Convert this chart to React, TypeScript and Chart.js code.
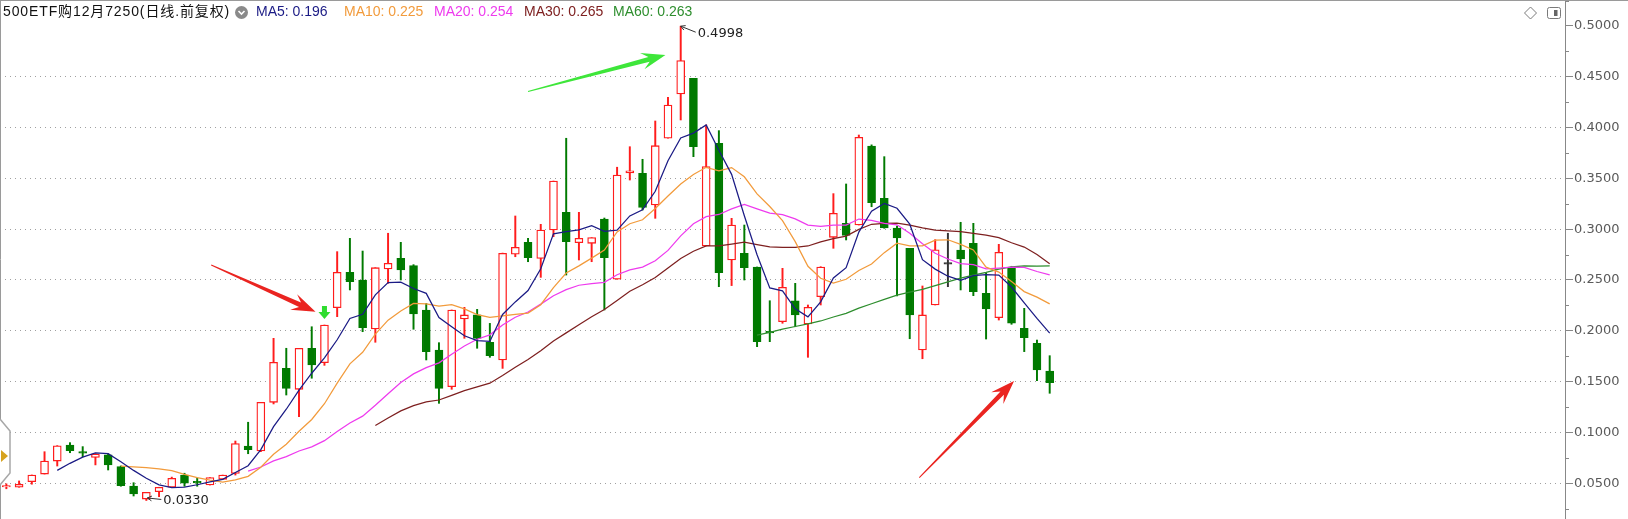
import { useEffect, useRef } from 'react';
import { Chart, registerables } from 'chart.js';

Chart.register(...registerables);

const chartTitle = '500ETF购12月7250(日线.前复权)';
const slotCount = 123;
const categories: string[] = Array.from({ length: slotCount }, (_, i) => `K${i + 1}`);

const openPrices = [
  0.0468, 0.0460, 0.0515, 0.0590, 0.0718, 0.0876, 0.0810, 0.0754, 0.0778, 0.0663,
  0.0472, 0.0344, 0.0417, 0.0460, 0.0580, 0.0515, 0.0482, 0.0538, 0.0595, 0.0866,
  0.0817, 0.1296, 0.1630, 0.1424, 0.1828, 0.1686, 0.2227, 0.2576, 0.2500, 0.2018,
  0.2608, 0.2713, 0.2641, 0.2205, 0.1811, 0.1450, 0.2116, 0.2156, 0.1887, 0.1713,
  0.2753, 0.2871, 0.2713, 0.2992, 0.3166, 0.2867, 0.2861, 0.3100, 0.2507, 0.3555,
  0.3550, 0.3238, 0.3895, 0.4331, 0.4485, 0.2835, 0.3845, 0.2697, 0.2762, 0.2628,
  0.1995, 0.2090, 0.2296, 0.2067, 0.2336, 0.2920, 0.3058, 0.3041, 0.3819, 0.3304,
  0.3012, 0.2812, 0.1811, 0.2254, 0.2664, 0.2795, 0.2861, 0.2369, 0.2129, 0.2625,
  0.2024, 0.1877, 0.1604,
];
const highPrices = [
  0.0494, 0.0522, 0.0581, 0.0810, 0.0870, 0.0899, 0.0860, 0.0790, 0.0790, 0.0670,
  0.0505, 0.0410, 0.0460, 0.0560, 0.0598, 0.0550, 0.0555, 0.0580, 0.0915, 0.1100,
  0.1296, 0.1926, 0.1828, 0.1828, 0.2040, 0.2057, 0.2779, 0.2910, 0.2785, 0.2621,
  0.2960, 0.2871, 0.2651, 0.2270, 0.1883, 0.2205, 0.2231, 0.2211, 0.2073, 0.2765,
  0.3130, 0.2910, 0.3048, 0.3474, 0.3895, 0.3166, 0.2917, 0.3110, 0.3610, 0.3812,
  0.3688, 0.4065, 0.4298, 0.4998, 0.4485, 0.4026, 0.3970, 0.3107, 0.3041, 0.2628,
  0.2296, 0.2615, 0.2467, 0.2254, 0.2631, 0.3350, 0.3445, 0.3927, 0.3830, 0.3714,
  0.3030, 0.2812, 0.2441, 0.2897, 0.2960, 0.3068, 0.3058, 0.2572, 0.2851, 0.2635,
  0.2221, 0.1909, 0.1755,
];
const lowPrices = [
  0.0445, 0.0460, 0.0490, 0.0590, 0.0669, 0.0800, 0.0760, 0.0680, 0.0630, 0.0470,
  0.0374, 0.0330, 0.0367, 0.0460, 0.0470, 0.0470, 0.0482, 0.0538, 0.0580, 0.0790,
  0.0810, 0.1280, 0.1368, 0.1155, 0.1533, 0.1660, 0.2139, 0.2402, 0.1991, 0.1887,
  0.2467, 0.2500, 0.2015, 0.1713, 0.1286, 0.1424, 0.1926, 0.1828, 0.1739, 0.1630,
  0.2729, 0.2680, 0.2526, 0.2926, 0.2549, 0.2697, 0.2680, 0.2205, 0.2507, 0.3484,
  0.3189, 0.3107, 0.3895, 0.4075, 0.3714, 0.2835, 0.2434, 0.2445, 0.2500, 0.1844,
  0.1893, 0.2074, 0.2040, 0.1739, 0.2254, 0.2812, 0.2894, 0.3041, 0.3221, 0.3009,
  0.2343, 0.1922, 0.1725, 0.2254, 0.2434, 0.2402, 0.2346, 0.1919, 0.2106, 0.2064,
  0.1795, 0.1509, 0.1385,
];
const closePrices = [
  0.0472, 0.0490, 0.0581, 0.0718, 0.0869, 0.0820, 0.0795, 0.0787, 0.0679, 0.0475,
  0.0394, 0.0410, 0.0460, 0.0548, 0.0500, 0.0505, 0.0555, 0.0580, 0.0890, 0.0830,
  0.1296, 0.1690, 0.1434, 0.1828, 0.1663, 0.2057, 0.2576, 0.2484, 0.2031, 0.2621,
  0.2664, 0.2598, 0.2165, 0.1795, 0.1434, 0.2205, 0.2156, 0.1926, 0.1755, 0.2762,
  0.2822, 0.2719, 0.2992, 0.3474, 0.2877, 0.2910, 0.2917, 0.2719, 0.3533, 0.3575,
  0.3215, 0.3822, 0.4222, 0.4659, 0.3812, 0.3616, 0.2572, 0.3041, 0.2621, 0.1893,
  0.1980, 0.2428, 0.2156, 0.2231, 0.2628, 0.3156, 0.2938, 0.3904, 0.3261, 0.3012,
  0.2914, 0.2156, 0.2156, 0.2798, 0.2664, 0.2707, 0.2385, 0.2215, 0.2772, 0.2074,
  0.1932, 0.1614, 0.1489,
];

const maPeriods = [5, 10, 20, 30, 60];
const maLegendValues = [0.196, 0.225, 0.254, 0.265, 0.263];
const maColors = ['#1b1b85', '#f29b3c', '#ee3bee', '#7e2020', '#2e8e2e'];

const yMin = 0.01476;
const yMax = 0.52559;
const yStep = 0.025;

const upColor = '#ff1c1c';
const downColor = '#007a00';
const flatColor = '#333333';

const arrowNotes = [
  { from: [16.1, 0.2648], to: [24.3, 0.2188], color: '#ea2420' },
  { from: [41.0, 0.4356], to: [51.8, 0.4715], color: '#3ee63a' },
  { from: [71.75, 0.0555], to: [79.2, 0.1506], color: '#ea2420' },
];
const signalIndex = 25;
const highNoteIndex = 53;
const lowNoteIndex = 11;

function movingAverage(values: number[], period: number): (number | null)[] {
  const out: (number | null)[] = [];
  let sum = 0;
  for (let i = 0; i < values.length; i++) {
    sum += values[i];
    if (i >= period) sum -= values[i - period];
    out.push(i >= period - 1 ? sum / period : null);
  }
  return out;
}

const isMajor = (v: number) => Math.abs(v / 0.05 - Math.round(v / 0.05)) < 1e-6;

function candleColor(i: number) {
  if (closePrices[i] > openPrices[i]) return upColor;
  if (closePrices[i] < openPrices[i]) return downColor;
  return flatColor;
}

function drawBigArrow(ctx: any, x1: number, y1: number, x2: number, y2: number, color: string) {
  const dx = x2 - x1;
  const dy = y2 - y1;
  const L = Math.hypot(dx, dy);
  const ux = dx / L, uy = dy / L, nx = -uy, ny = ux;
  const hl = 24, hw = 8.5, sw = 2.4, notch = 17;
  const pt = (a: number, b: number) => [x1 + ux * a + nx * b, y1 + uy * a + ny * b];
  const pts = [pt(0, 0.5), pt(L - notch, sw), pt(L - hl, hw), pt(L, 0), pt(L - hl, -hw), pt(L - notch, -sw), pt(0, -0.5)];
  ctx.save();
  ctx.fillStyle = color;
  ctx.beginPath();
  pts.forEach((p, k) => (k ? ctx.lineTo(p[0], p[1]) : ctx.moveTo(p[0], p[1])));
  ctx.closePath();
  ctx.fill();
  ctx.restore();
}

function drawNote(ctx: any, tipX: number, tipY: number, endX: number, endY: number, text: string) {
  ctx.save();
  ctx.strokeStyle = '#333';
  ctx.lineWidth = 1;
  ctx.beginPath();
  ctx.moveTo(endX, endY);
  ctx.lineTo(tipX, tipY);
  const ang = Math.atan2(tipY - endY, tipX - endX);
  ctx.moveTo(tipX, tipY);
  ctx.lineTo(tipX - 5 * Math.cos(ang - 0.5), tipY - 5 * Math.sin(ang - 0.5));
  ctx.moveTo(tipX, tipY);
  ctx.lineTo(tipX - 5 * Math.cos(ang + 0.5), tipY - 5 * Math.sin(ang + 0.5));
  ctx.stroke();
  ctx.fillStyle = '#222';
  ctx.font = '13px "DejaVu Sans"';
  ctx.textBaseline = 'middle';
  ctx.textAlign = 'left';
  ctx.fillText(text, endX + 2, endY + 1);
  ctx.restore();
}

function fitText(ctx: any, text: string, x: number, y: number, width: number) {
  try { ctx.letterSpacing = '0px'; } catch (e) {}
  const natural = ctx.measureText(text).width;
  const n = Array.from(text).length;
  const extra = (width - natural) / n;
  try { ctx.letterSpacing = `${extra.toFixed(2)}px`; } catch (e) {}
  ctx.fillText(text, x, y);
  try { ctx.letterSpacing = '0px'; } catch (e) {}
}

const decorPlugin = {
  id: 'decor',
  afterDatasetsDraw(chart: any) {
    const ctx = chart.ctx;
    const xs = chart.scales.x;
    const ys = chart.scales.y;
    const px = (i: number) => xs.getPixelForValue(i);
    const py = (v: number) => ys.getPixelForValue(v);

    for (const a of arrowNotes) {
      drawBigArrow(ctx, px(a.from[0]), py(a.from[1]), px(a.to[0]), py(a.to[1]), a.color);
    }

    // buy signal marker
    const cx = px(signalIndex);
    const tip = py(highPrices[signalIndex]) - 6;
    ctx.save();
    ctx.fillStyle = '#2fdc2f';
    ctx.fillRect(cx - 2.5, tip - 13, 5, 6.5);
    ctx.beginPath();
    ctx.moveTo(cx - 6, tip - 7);
    ctx.lineTo(cx + 6, tip - 7);
    ctx.lineTo(cx, tip);
    ctx.closePath();
    ctx.fill();
    ctx.restore();

    const hx = px(highNoteIndex);
    const hy = py(highPrices[highNoteIndex]);
    drawNote(ctx, hx, hy, hx + 15, hy + 6, highPrices[highNoteIndex].toFixed(4));
    const lx = px(lowNoteIndex) + 1;
    const ly = py(lowPrices[lowNoteIndex]) - 2.5;
    drawNote(ctx, lx, ly, lx + 14, ly + 1.5, lowPrices[lowNoteIndex].toFixed(4));
  },
  afterDraw(chart: any) {
    const ctx = chart.ctx;
    const ys = chart.scales.y;
    const area = chart.chartArea;
    ctx.save();

    // minor ticks
    ctx.strokeStyle = '#888';
    ctx.lineWidth = 1;
    ctx.beginPath();
    for (let v = 0.025; v < yMax; v += 0.05) {
      const y = Math.round(ys.getPixelForValue(v)) + 0.5;
      ctx.moveTo(area.right, y);
      ctx.lineTo(area.right + 4, y);
    }
    ctx.stroke();

    // frame
    ctx.strokeStyle = '#9a9a9a';
    ctx.beginPath();
    ctx.moveTo(0, 0.5);
    ctx.lineTo(chart.width, 0.5);
    ctx.moveTo(0.5, 0);
    ctx.lineTo(0.5, chart.height);
    ctx.stroke();

    // left handle
    ctx.fillStyle = '#ffffff';
    ctx.strokeStyle = '#a8a8a8';
    ctx.lineWidth = 1.5;
    ctx.beginPath();
    ctx.moveTo(0, 419);
    ctx.lineTo(10, 431);
    ctx.lineTo(10, 473);
    ctx.lineTo(0, 485);
    ctx.fill();
    ctx.stroke();
    ctx.fillStyle = '#d6a21e';
    ctx.beginPath();
    ctx.moveTo(1, 450);
    ctx.lineTo(8, 456);
    ctx.lineTo(1, 462);
    ctx.closePath();
    ctx.fill();

    // header
    ctx.textBaseline = 'middle';
    ctx.textAlign = 'left';
    ctx.fillStyle = '#111';
    ctx.font = '14px "Liberation Sans", "Noto Sans CJK SC"';
    fitText(ctx, chartTitle, 3, 12.5, 227);

    ctx.fillStyle = '#8a8a8a';
    ctx.beginPath();
    ctx.arc(241.5, 12.5, 6.5, 0, Math.PI * 2);
    ctx.fill();
    ctx.strokeStyle = '#ffffff';
    ctx.lineWidth = 1.6;
    ctx.beginPath();
    ctx.moveTo(238.5, 11);
    ctx.lineTo(241.5, 14);
    ctx.lineTo(244.5, 11);
    ctx.stroke();

    const maX = [256, 344, 434, 524, 613];
    ctx.font = '14px "Liberation Sans"';
    maPeriods.forEach((p, k) => {
      ctx.fillStyle = maColors[k];
      ctx.fillText(`MA${p}: ${maLegendValues[k].toFixed(3)}`, maX[k], 12.5);
    });

    // top-right icons
    ctx.strokeStyle = '#7a7a7a';
    ctx.lineWidth = 1;
    ctx.beginPath();
    ctx.moveTo(1530.5, 7);
    ctx.lineTo(1536.5, 13);
    ctx.lineTo(1530.5, 19);
    ctx.lineTo(1524.5, 13);
    ctx.closePath();
    ctx.stroke();
    ctx.beginPath();
    ctx.roundRect(1547.5, 7.5, 13, 11, 2);
    ctx.stroke();
    ctx.fillStyle = '#666';
    ctx.fillRect(1554, 10, 3.5, 6);

    ctx.restore();
  },
};

export default function App() {
  const canvasRef = useRef<HTMLCanvasElement | null>(null);

  useEffect(() => {
    document.body.style.margin = '0';
    const canvas = canvasRef.current;
    if (!canvas) return;
    const n = closePrices.length;
    const colors = Array.from({ length: n }, (_, i) => candleColor(i));
    const bodies = openPrices.map((o, i) => {
      const c = closePrices[i];
      if (Math.abs(c - o) < 0.0015) {
        const m = (c + o) / 2;
        return [m - 0.00075, m + 0.00075];
      }
      return [o, c];
    });
    const wicks = lowPrices.map((l, i) => [l, highPrices[i]]);

    const maSets = maPeriods.map((p, k) => ({
      type: 'line',
      label: `MA${p}`,
      data: movingAverage(closePrices, p),
      borderColor: maColors[k],
      borderWidth: 1.25,
      pointRadius: 0,
      fill: false,
      tension: 0,
      order: 0,
    }));

    const chart = new Chart(canvas, {
      type: 'bar',
      data: {
        labels: categories,
        datasets: [
          ...maSets,
          {
            type: 'bar',
            label: 'body',
            data: bodies,
            backgroundColor: colors.map((c) => (c === upColor ? '#ffffff' : c)),
            borderColor: colors,
            borderWidth: 1.3,
            borderSkipped: false,
            barThickness: 8,
            grouped: false,
            order: 1,
          },
          {
            type: 'bar',
            label: 'wick',
            data: wicks,
            backgroundColor: colors,
            borderWidth: 0,
            barThickness: 1.3,
            grouped: false,
            order: 2,
          },
        ] as any,
      },
      options: {
        animation: false,
        responsive: true,
        maintainAspectRatio: false,
        events: [],
        layout: { padding: 0 },
        plugins: { legend: { display: false }, tooltip: { enabled: false } },
        scales: {
          x: { type: 'category', display: false, offset: true, grid: { display: false } },
          y: {
            position: 'right',
            min: yMin,
            max: yMax,
            afterFit: (s: any) => {
              s.width = 63;
              s.paddingTop = 0;
              s.paddingBottom = 0;
            },
            ticks: {
              stepSize: yStep,
              includeBounds: false,
              autoSkip: false,
              padding: 1,
              color: '#5a5a5a',
              font: { family: 'DejaVu Sans', size: 13 },
              callback: (v: any) => (isMajor(Number(v)) ? Number(v).toFixed(4) : ''),
            },
            grid: {
              drawOnChartArea: true,
              lineWidth: 1,
              color: (c: any) => (c.tick && isMajor(c.tick.value) && c.tick.value < 0.49 ? '#a0a0a0' : 'rgba(0,0,0,0)'),
              tickColor: (c: any) => (c.tick && isMajor(c.tick.value) ? '#888888' : 'rgba(0,0,0,0)'),
              tickLength: 8,
            },
            border: { display: true, color: '#888888', width: 1, dash: [1, 4] },
          },
        },
      } as any,
      plugins: [decorPlugin],
    });
    return () => chart.destroy();
  }, []);

  return (
    <div style={{ width: 1628, height: 519, position: 'relative' }}>
      <canvas ref={canvasRef} />
    </div>
  );
}
